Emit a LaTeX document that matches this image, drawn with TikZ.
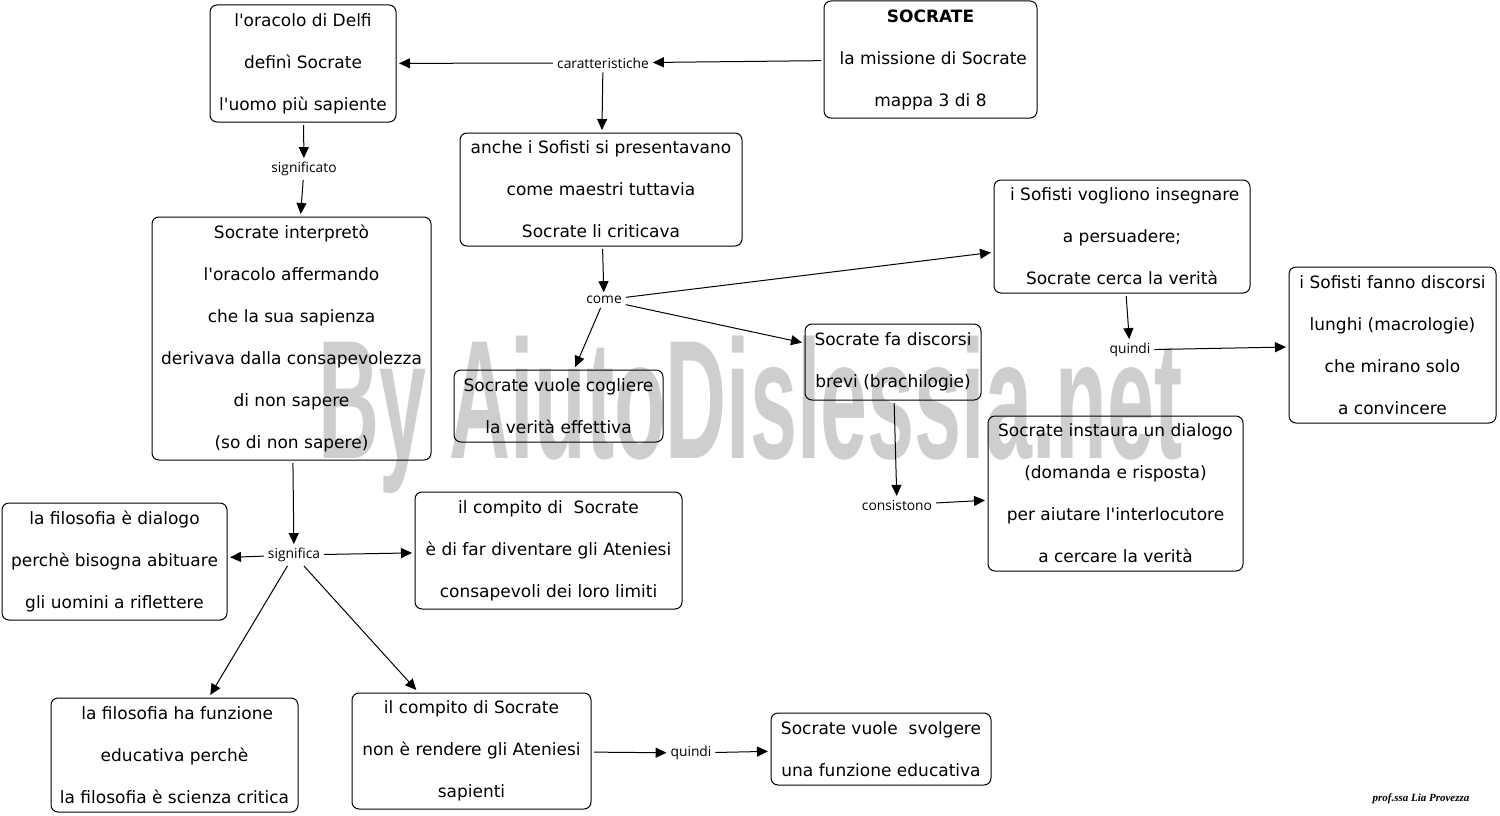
\documentclass[tikz,border=0pt]{standalone}
\usepackage{fontspec}
\setmainfont{DejaVu Sans}
\newfontfamily\lblfont{Open Sans}
\newfontfamily\wmfont{Liberation Sans}
\newfontfamily\sigfont{Liberation Serif}
\usetikzlibrary{arrows.meta}
\definecolor{wmgray}{RGB}{206,206,206}
\newcommand\ap{\textquotesingle}
\begin{document}
\begin{tikzpicture}[x=1pt,y=-1pt,
  box/.style={draw, line width=1pt, rounded corners=7pt, inner sep=0pt, outer sep=3pt,
    align=center, font=\fontsize{17}{42}\selectfont},
  lbl/.style={inner sep=3pt, outer sep=1pt, font=\lblfont\fontsize{13.8}{16}\selectfont},
  arr/.style={-{Triangle[length=11pt,width=10pt]}, line width=1pt}]
\useasboundingbox (0,0) rectangle (1500,816);
\fill[white] (0,0) rectangle (1500,816);
% watermark
\node[anchor=base, inner sep=0pt, text=wmgray] (wm) at (750.5,458)
  {\scalebox{0.5}[1]{\wmfont\bfseries\fontsize{169}{169}\selectfont By AiutoDislessia.net}};
% boxes
\node[box, minimum width=186pt, minimum height=117pt] (oracolo) at (303,63.5)
  {l\ap oracolo di Delfi\\ definì Socrate\\ l\ap uomo più sapiente};
\node[box, minimum width=213pt, minimum height=117pt] (socrate) at (930.5,59.5)
  {\textbf{SOCRATE}\\ \ la missione di Socrate\\ mappa 3 di 8};
\node[box, minimum width=282pt, minimum height=113pt] (sofisti) at (601,189.5)
  {anche i Sofisti si presentavano\\ come maestri tuttavia\\ Socrate li criticava};
\node[box, minimum width=279pt, minimum height=243pt] (interpreto) at (291.5,338.5)
  {Socrate interpretò\\ l\ap oracolo affermando\\ che la sua sapienza\\ derivava dalla consapevolezza\\ di non sapere\\ (so di non sapere)};
\node[box, minimum width=256pt, minimum height=113pt] (persuadere) at (1122,236.5)
  {\ i Sofisti vogliono insegnare\\ a persuadere;\\ Socrate cerca la verità};
\node[box, minimum width=207pt, minimum height=156pt] (macro) at (1392.5,345)
  {i Sofisti fanno discorsi\\ lunghi (macrologie)\\ che mirano solo\\ a convincere};
\node[box, minimum width=209pt, minimum height=72pt] (cogliere) at (558.5,406)
  {Socrate vuole cogliere\\ la verità effettiva};
\node[box, minimum width=176pt, minimum height=76pt] (brevi) at (893,362)
  {Socrate fa discorsi\\ brevi (brachilogie)};
\node[box, minimum width=255pt, minimum height=155pt] (dialogo) at (1115.5,493.5)
  {Socrate instaura un dialogo\\ (domanda e risposta)\\ per aiutare l\ap interlocutore\\ a cercare la verità};
\node[box, minimum width=225pt, minimum height=117pt] (filodial) at (114.5,561.5)
  {la filosofia è dialogo\\ perchè bisogna abituare\\ gli uomini a riflettere};
\node[box, minimum width=267pt, minimum height=117pt] (compito1) at (548.5,550.5)
  {il compito di\ \ Socrate\\ è di far diventare gli Ateniesi\\ consapevoli dei loro limiti};
\node[box, minimum width=247pt, minimum height=114pt] (filoedu) at (174.5,755)
  {\ la filosofia ha funzione\\ educativa perchè\\ la filosofia è scienza critica};
\node[box, minimum width=239pt, minimum height=116pt] (compito2) at (471.5,751)
  {il compito di Socrate\\ non è rendere gli Ateniesi\\ sapienti};
\node[box, minimum width=220pt, minimum height=72pt] (svolgere) at (881,749)
  {Socrate vuole\ \ svolgere\\ una funzione educativa};
% labels
\node[lbl] (caratt) at (603,63) {caratteristiche};
\node[lbl] (signif) at (304,169) {significato};
\node[lbl] (come) at (604,300) {come};
\node[lbl] (quindi1) at (1130,350) {quindi};
\node[lbl] (consist) at (897,505) {consistono};
\node[lbl] (signca) at (294,555) {significa};
\node[lbl] (quindi2) at (691,753) {quindi};
% connectors
\draw[arr] (socrate) -- (caratt);
\draw[arr] (caratt) -- (oracolo);
\draw[arr] (caratt) -- (sofisti);
\draw[arr] (oracolo) -- (signif);
\draw[arr] (signif) -- (interpreto);
\draw[arr] (sofisti) -- (come);
\draw[arr] (come) -- (persuadere);
\draw[arr] (come) -- (brevi);
\draw[arr] (come) -- (cogliere);
\draw[arr] (persuadere) -- (quindi1);
\draw[arr] (quindi1) -- (macro);
\draw[arr] (brevi) -- (consist);
\draw[arr] (consist) -- (dialogo);
\draw[arr] (interpreto) -- (signca);
\draw[arr] (signca) -- (filodial);
\draw[arr] (signca) -- (compito1);
\draw[arr] (signca) -- (filoedu);
\draw[arr] (signca) -- (compito2);
\draw[arr] (compito2) -- (quindi2);
\draw[arr] (quindi2) -- (svolgere);
% signature
\node[inner sep=0pt] (sig) at (1421,799) {\sigfont\bfseries\itshape\fontsize{11}{13}\selectfont prof.ssa Lia Provezza};
\end{tikzpicture}
\end{document}
